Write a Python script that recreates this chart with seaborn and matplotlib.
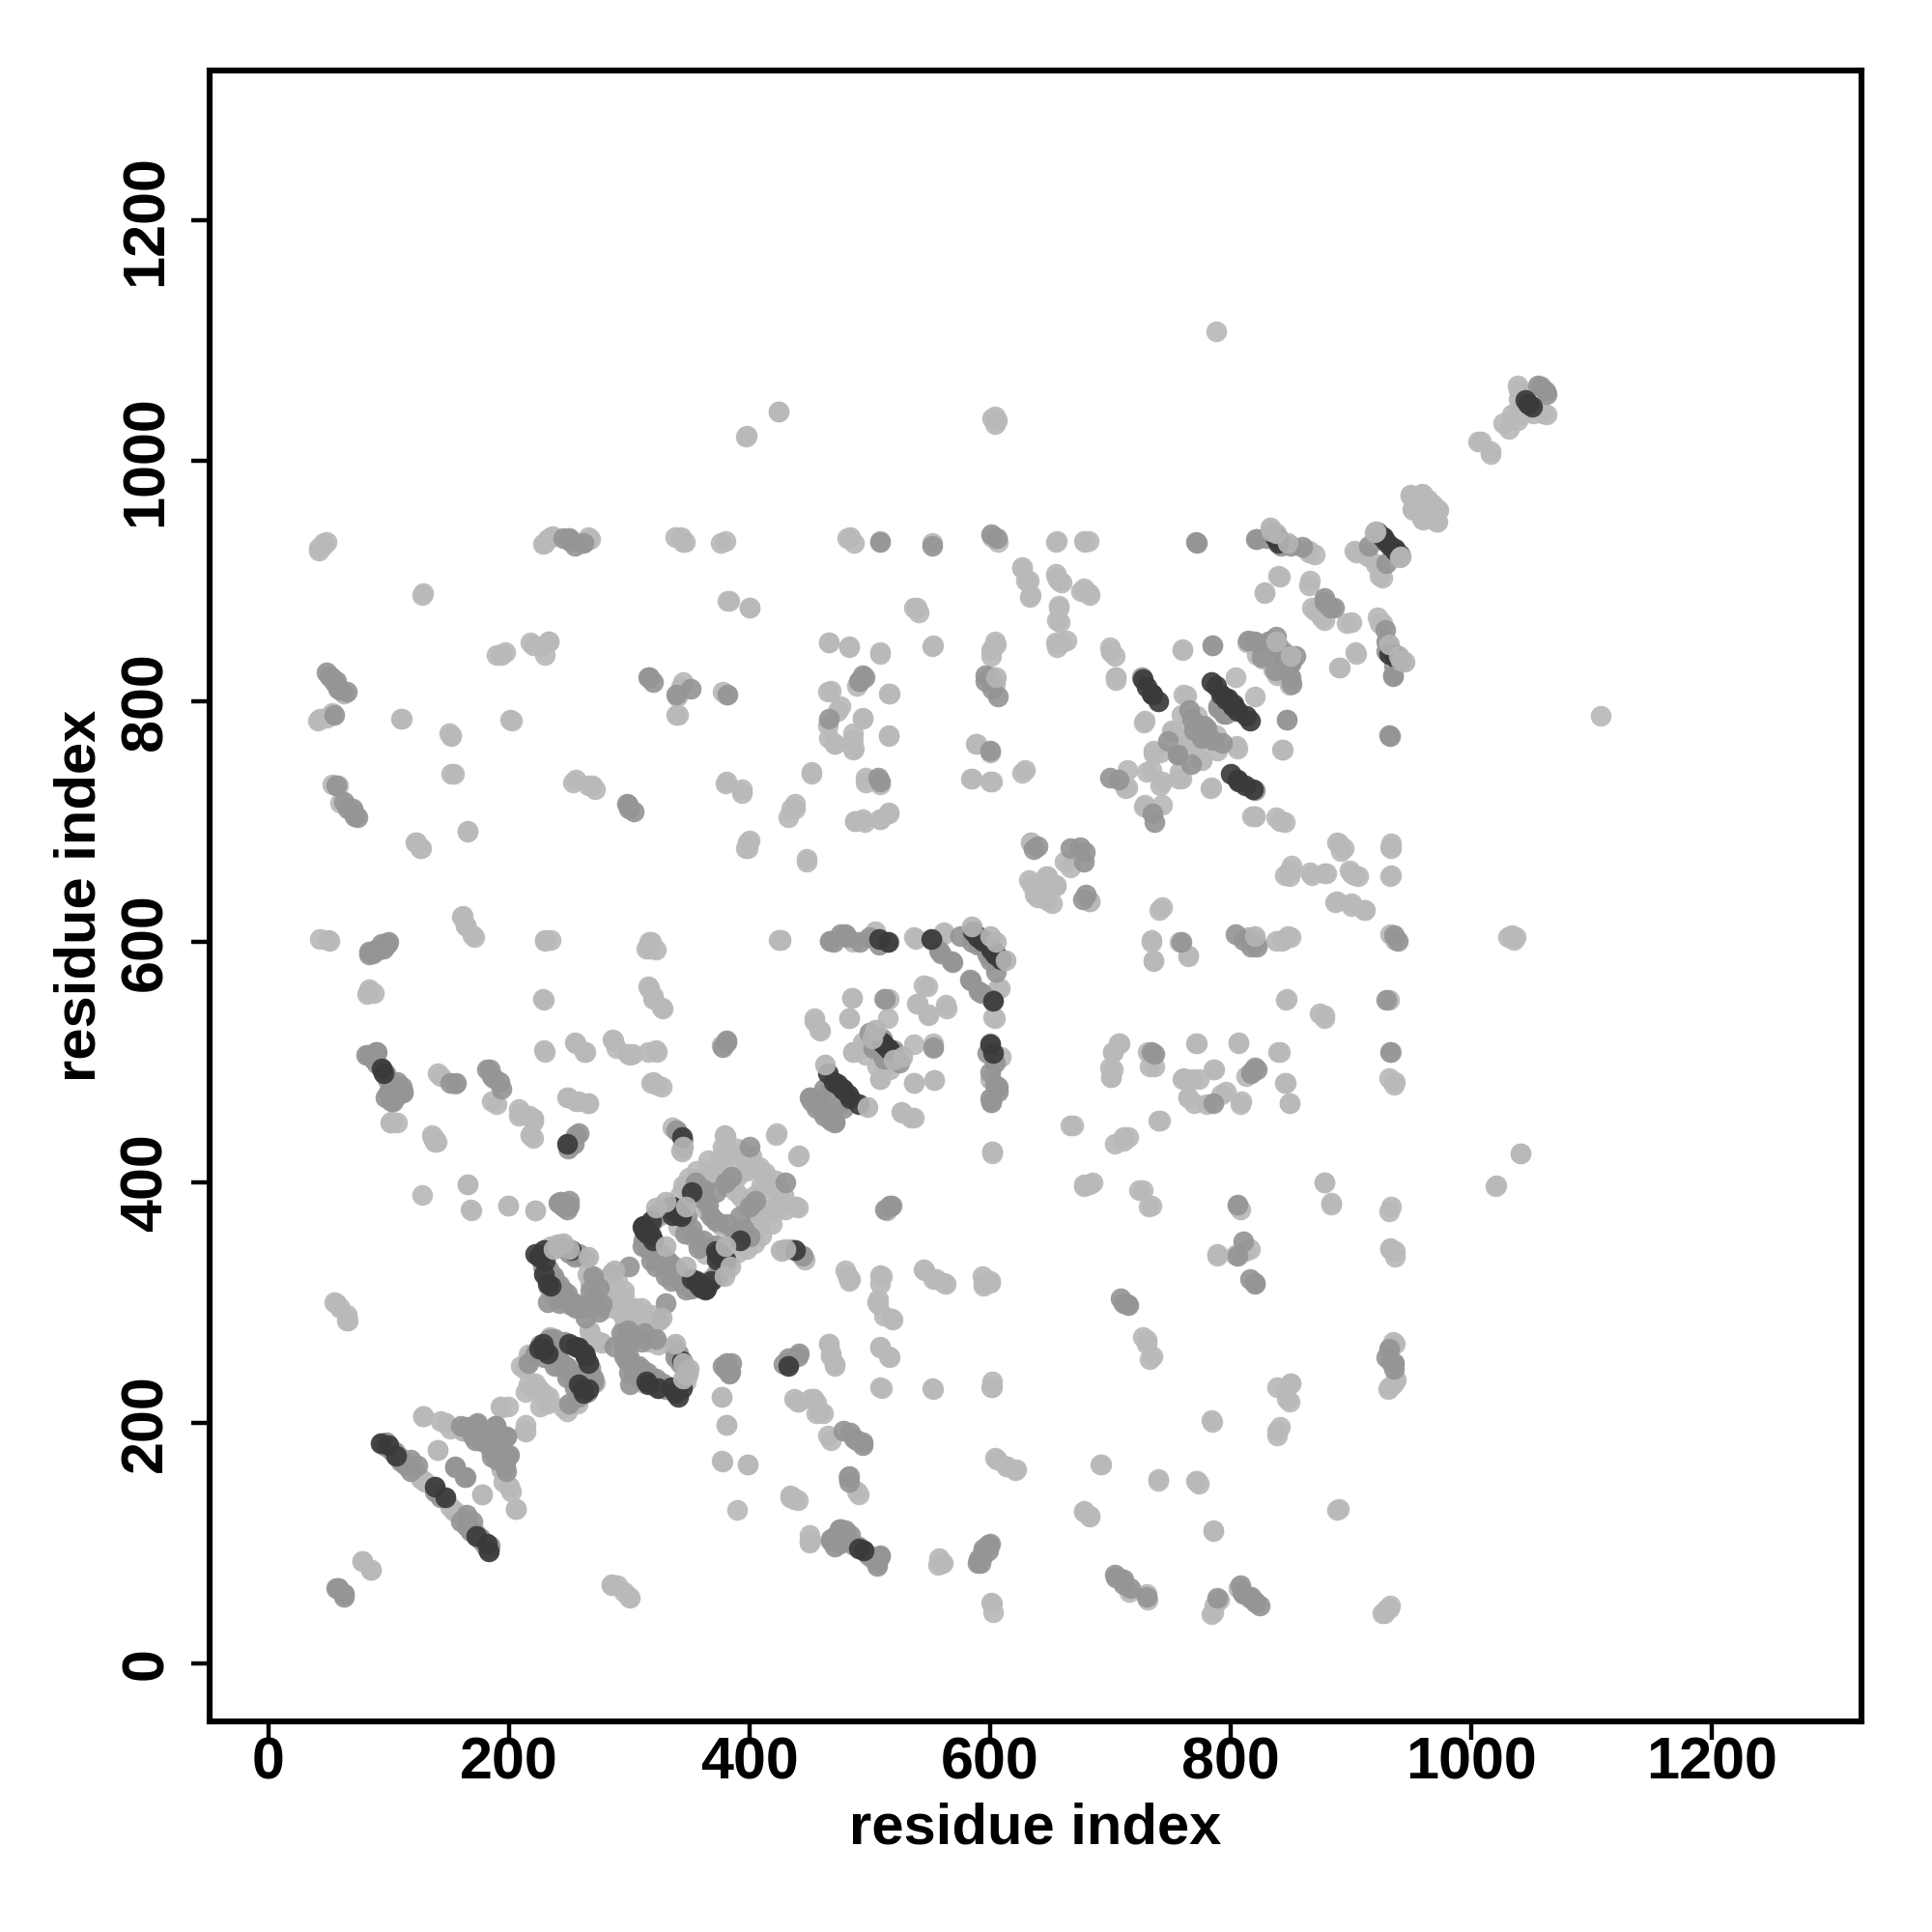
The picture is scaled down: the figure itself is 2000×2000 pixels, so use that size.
import matplotlib
matplotlib.use("Agg")
import matplotlib.pyplot as plt
import seaborn as sns
import pandas as pd

light_pairs = [
(42,926),(45,930),(48,933),(228,931),(232,935),(236,938),(250,936),(262,933),(268,935),(338,937),(345,933),(376,932),(380,934),
(481,936),(487,932),(602,937),(607,933),(656,934),(678,934),(682,934),(128,889),(382,884),(400,878),(537,878),(541,874),(552,846),
(466,849),(483,846),(509,840),(627,911),(632,901),(633,887),(656,903),(660,899),(657,880),(658,866),(655,849),(664,851),(676,892),(683,889),
(700,845),(704,838),(705,820),(602,844),(605,848),(601,838),(600,821),(604,815),
(41,784),(48,787),(110,786),(150,774),(152,771),(152,740),(201,785),(190,839),(197,841),(218,849),(227,846),(233,850),(230,839),
(339,789),(345,816),(378,808),(380,732),(394,724),(400,685),(397,678),(432,704),(438,711),(448,669),(452,742),
(465,780),(473,792),(465,808),(489,813),(516,807),(494,787),(486,774),(487,761),(466,770),(471,765),(516,772),(497,733),(506,735),(509,731),
(488,701),(496,700),(509,702),(516,708),(588,765),(584,736),(600,734),(629,743),(634,683),(667,662),(683,634),
(632,652),(637,640),(648,655),(655,647),(648,635),(642,646),(741,627),(734,602),(736,585),(758,600),(765,589),
(53,731),(58,730),(60,716),(43,603),(50,602),(56,300),(60,296),(65,285),(84,559),(88,558),(101,450),(107,450),
(122,683),(127,678),(166,693),(161,621),(164,614),(170,606),(141,491),(186,468),(208,461),(217,456),(220,453),(218,440),(137,437),(140,434),
(166,399),(168,378),(199,381),(230,601),(235,602),(228,553),(229,510),(255,517),(263,509),(248,471),(258,468),(266,466),(222,377),
(253,733),(266,730),(272,727),(286,519),(289,512),(299,507),(303,507),(316,509),(322,510),(314,595),(318,600),(322,594),(316,563),(320,555),(327,546),
(318,483),(327,480),(344,428),(345,435),(377,514),(424,602),(426,602),(537,604),(562,608),
(485,554),(483,537),(512,553),(516,553),(548,563),(540,549),(564,545),(549,539),(607,562),(603,538),(454,537),(458,527),(521,507),
(537,515),(486,509),(497,513),(506,497),(517,494),(509,486),(537,483),(554,485),(526,459),(534,454),(609,505),(600,486),(601,467),(602,426),
(379,440),(384,426),(402,422),(422,440),(441,423),(438,380),(426,344),(443,340),(481,323),(484,320),(509,323),(506,301),(518,287),
(553,320),(562,317),(595,317),(600,317),(545,328),(509,264),(516,256),(466,266),(468,256),(471,249),(509,230),(552,229),(602,230),
(437,220),(453,220),(458,210),(465,190),(482,155),(489,143),(434,138),(440,136),(450,102),(601,51),(604,171),(614,164),(622,162),
(557,82),(561,84),(599,97),(692,166),(678,126),(683,123),(740,154),(772,152),(786,111),(784,203),(786,43),(791,53),(807,63),(890,129),(932,46),(928,42),
(839,194),(847,220),(850,233),(937,266),(932,230),(937,235),(730,269),(735,256),(812,343),(804,340),(789,341),(937,343),(933,346),
(806,381),(727,394),(734,381),(678,399),(683,399),(667,448),(711,435),(715,438),(740,452),(760,486),(768,486),(765,471),(796,476),
(771,516),(786,494),(807,517),(809,468),(841,509),(845,483),(849,466),(847,553),(878,539),(932,552),(934,509),(937,484),(702,494),(701,488),
(702,509),(707,516),(737,497),(843,601),(850,604),(933,655),(933,679),(847,785),(843,760),(841,701),(849,660),(845,656),(868,656),(878,657),
(890,682),(894,678),(901,657),(906,655),(889,634),(901,630),(912,627),(820,705),(828,890),(841,904),(866,901),(865,926),(870,922),(868,878),(876,870),
(897,865),(905,840),(891,828),(903,926),(914,921),(924,912),(924,905),(924,865),(814,849),(820,846),(827,836),(842,844),
(839,822),(850,819),(950,972),(960,972),(964,968),(973,959),(951,960),(959,952),(971,950),(1006,1016),(1016,1008),(1032,1027),
(1042,1039),(1040,1060),(1034,1039),(1052,1040),(1063,1039),(1031,604),(1037,604),(1021,398),(1041,424),(788,1108),(424,1041),(397,1020),(602,1036),(606,1034),
(878,400),(884,383),(760,844),(763,805),(759,789),(751,776),(763,772),(772,788),(752,775),(736,757),(734,743),(730,742),(736,759),(714,743),
(714,729),(713,728),(729,784),(728,783),(761,806),(794,804),(770,764),(775,752),(742,758),(804,820),(818,705),(842,701),(828,843),
(129,206),(141,178),(143,202),(147,200),(151,195),(193,214),(199,214),(194,213),(174,198),(129,206),(178,141),(162,194),(200,147),(194,162),(206,129),
(118,165),(122,161),(127,154),(130,151),(147,138),(154,127),(78,85),(85,78),(290,65),(301,55),(285,66),
(233,313),(235,347),(240,349),(263,337),(265,324),(268,320),(272,317),(285,325),(280,296),(288,296),(295,289),(216,257),(210,248),(240,248),(222,230),(222,229),(234,272),(216,253),(213,245),
(268,275),(267,277),(272,309),(285,323),(268,317),(264,337),(253,341),(240,347),(229,325),(242,304),
(347,397),(359,400),(366,419),(372,405),(376,421),(380,439),(382,397),(388,393),(408,413),(402,418),(395,424),(390,428),(347,360),(352,356),(356,352),(341,363),(365,376),(366,376),(348,395),(360,398),(365,408),
(102,451),(138,436),(220,451),(218,440),(208,456),(336,446),(343,427),(377,222),(381,199),(377,169),(399,166),(390,128),
(398,415),(392,420),(385,425),(378,430),(405,390),(410,398),(412,405),(350,404),(356,410),(342,390),(331,380),(345,318),(350,316),(368,320),(372,325),(384,352),(390,350),(398,345),(405,362),(410,370),(412,378),
(222,233),(225,228),(216,232),(214,226),(236,308),(290,318),(296,310),(305,296),(312,288),(318,280),(290,302),(282,312),
]
mid_pairs = [
(250,432),(822,935),(842,933),(58,63),(56,63),(63,58),(66,711),(71,708),(74,704),(84,592),(89,594),(94,599),(99,599),(81,506),(89,509),(99,486),(104,481),(111,480),(97,471),
(151,483),(156,483),(182,494),(186,489),(192,484),(243,384),(250,381),(299,714),(304,709),(339,444),(381,517),(378,248),(383,241),(467,601),(481,604),(492,600),(516,600),
(552,602),(558,593),(568,584),(583,569),(591,559),(553,513),(450,471),(458,467),(471,451),(468,452),(607,480),(513,378),(518,381),(428,249),(432,254),
(441,258),(478,194),(487,187),(494,184),(468,102),(476,112),(484,107),(491,97),(499,90),(506,84),(509,90),(591,87),(705,72),(711,70),(717,63),(730,56),(817,56),(824,48),
(934,251),(711,300),(715,298),(820,317),(786,466),(817,491),(822,494),(734,509),(737,507),(804,607),(811,602),(817,596),(822,596),(936,606),(939,601),(932,772),
(834,851),(849,835),(837,826),(785,847),(339,376),(726,820),(700,737),(707,735),(756,756),(748,767),(815,851),(839,848),(878,883),(886,878),(929,860),(935,821),(1058,1062),(1063,1056),
(771,933),(509,933),(552,930),(250,936),(51,821),(55,816),(58,811),(65,808),(55,789),(316,820),(320,816),(339,806),(351,811),(382,806),(492,817),(496,820),
(600,759),(667,678),(679,675),(226,265),(95,183),(97,181),(105,176),(113,167),(138,143),(165,114),(173,106),(182,100),(184,98),
(155,164),(163,155),(165,197),(173,199),(177,186),(185,178),(189,198),(198,189),(200,174),
(232,301),(240,305),(248,302),(256,296),(264,298),(234,270),(238,248),(253,299),(264,288),(277,299),(300,330),
(323,373),(311,347),(325,339),(315,347),(322,374),(380,400),(385,405),(400,430),(242,383),(256,440),
(245,346),(258,341),(228,330),(231,322),(242,300),(252,298),(260,296),(268,296),(272,300),(275,293),(270,322),(275,313),(216,250),(222,258),(232,266),(238,270),(246,268),(243,252),(248,247),(240,256),(235,258),(229,255),
(255,338),(250,342),(233,328),(237,322),(242,312),(248,308),(255,300),(236,320),(242,315),(245,310),(270,303),(268,310),
(312,352),(320,370),(327,376),(328,340),(335,332),(330,335),(320,342),(316,345),(318,335),(322,330),(362,316),(376,332),(378,342),(372,348),(400,355),(395,362),(388,358),(382,366),(392,372),(372,368),(362,352),(358,346),
(118,170),(124,165),(102,178),(109,172),(160,118),(168,110),(176,104),(178,102),(170,190),(182,192),(186,184),(192,178),(196,168),(198,160),(186,172),
(476,102),(480,108),(472,106),(495,94),(502,88),(590,84),(594,92),(600,100),(595,96),(810,60),(820,52),(930,255),(936,245),(932,262),(100,475),(106,472),(112,475),(104,468),
(850,930),(936,830),(930,842),(940,922),(915,930),(820,850),(832,850),(838,854),(840,842),(845,840),(778,780),(790,795),(796,790),(766,793),(768,785),(776,770),
(520,510),(525,500),(512,503),(590,600),(600,585),(598,590),(605,575),(470,600),(476,607),(500,604),(508,598),(475,465),(478,462),(460,462),(462,456),(380,245),(385,250),(640,680),(636,677),
]
dark_pairs = [
(837,938),(840,936),(922,941),(926,937),(930,933),(937,927),(932,840),(937,837),(94,495),(96,491),(93,183),(100,182),(106,173),(138,147),
(465,491),(473,482),(478,477),(484,470),(510,517),(512,515),(586,609),(590,605),(595,602),(601,594),(604,590),(600,515),(603,508),(603,551),
(248,432),(344,438),(727,819),(730,812),(734,807),(784,816),(788,813),(792,806),(798,803),(802,796),(735,806),(740,800),(222,341),(225,338),(229,344),
(229,324),(252,344),(250,266),(256,264),(229,261),(232,316),(226,339),(230,335),(313,361),(318,368),(313,360),(340,376),(336,373),(352,392),(1045,1051),(1048,1048),
(311,363),(315,358),(335,380),(342,374),(372,343),(376,338),(380,336),(356,318),(360,314),(364,312),(352,320),(263,258),(228,266),(225,262),(232,258),(235,314),
]
# light marks that lie over the darker ones at the ends of the bands
cap_pairs = [
(613,585),(942,921),(945,833),(848,932),(498,463),(527,505),(850,838),(345,430),(347,240),(380,347),(347,330),(345,250),(350,245),
(237,345),(266,338),(288,327),(379,322),(384,330),(520,502),(605,600),(942,834),(941,920),(940,838),(605,820),
]

light_i, light_j = zip(*light_pairs)
mid_i, mid_j = zip(*mid_pairs)
dark_i, dark_j = zip(*dark_pairs)
cap_i, cap_j = zip(*cap_pairs)

x_ticks = [0, 200, 400, 600, 800, 1000, 1200]
axis_label = "residue index"

sns.set_theme(style="white")
plt.rcParams["font.family"] = ["Liberation Sans", "DejaVu Sans"]
plt.rcParams["font.weight"] = "bold"

fig = plt.figure(figsize=(10, 10), dpi=200)
ax = fig.add_axes([0.1084, 0.109, 0.8552, 0.8546])

layers = [(light_i, light_j, "#b9b9b9"), (mid_i, mid_j, "#959595"), (dark_i, dark_j, "#3a3a3a"), (cap_i, cap_j, "#b4b4b4")]
for a, b, colour in layers:
    df = pd.DataFrame({"i": list(a) + list(b), "j": list(b) + list(a)})
    sns.scatterplot(data=df, x="i", y="j", color=colour, s=60, linewidth=0, alpha=0.92, ax=ax, legend=False, zorder=3)

ax.set_xlim(-49, 1325)
ax.set_ylim(-48, 1325)
ax.set_xticks(x_ticks)
ax.set_yticks(x_ticks)
ax.tick_params(axis="x", length=7, width=1.6, labelsize=22, color="black", labelcolor="black", bottom=True, pad=-1.5)
ax.tick_params(axis="y", length=7, width=1.6, labelsize=22, color="black", labelcolor="black", left=True, pad=6)
for t in ax.get_yticklabels():
    t.set_rotation(90)
    t.set_va("center")
    t.set_fontweight("bold")
for t in ax.get_xticklabels():
    t.set_fontweight("bold")
ax.set_xlabel(axis_label, fontsize=21.5, fontweight="bold", color="black")
ax.set_ylabel(axis_label, fontsize=21.5, fontweight="bold", color="black")
ax.xaxis.set_label_coords(0.5, -0.049)
ax.yaxis.set_label_coords(-0.062, 0.5)
for s in ax.spines.values():
    s.set_visible(True)
    s.set_color("black")
    s.set_linewidth(2.2)

fig.savefig("out.png", dpi=200, facecolor="white")
